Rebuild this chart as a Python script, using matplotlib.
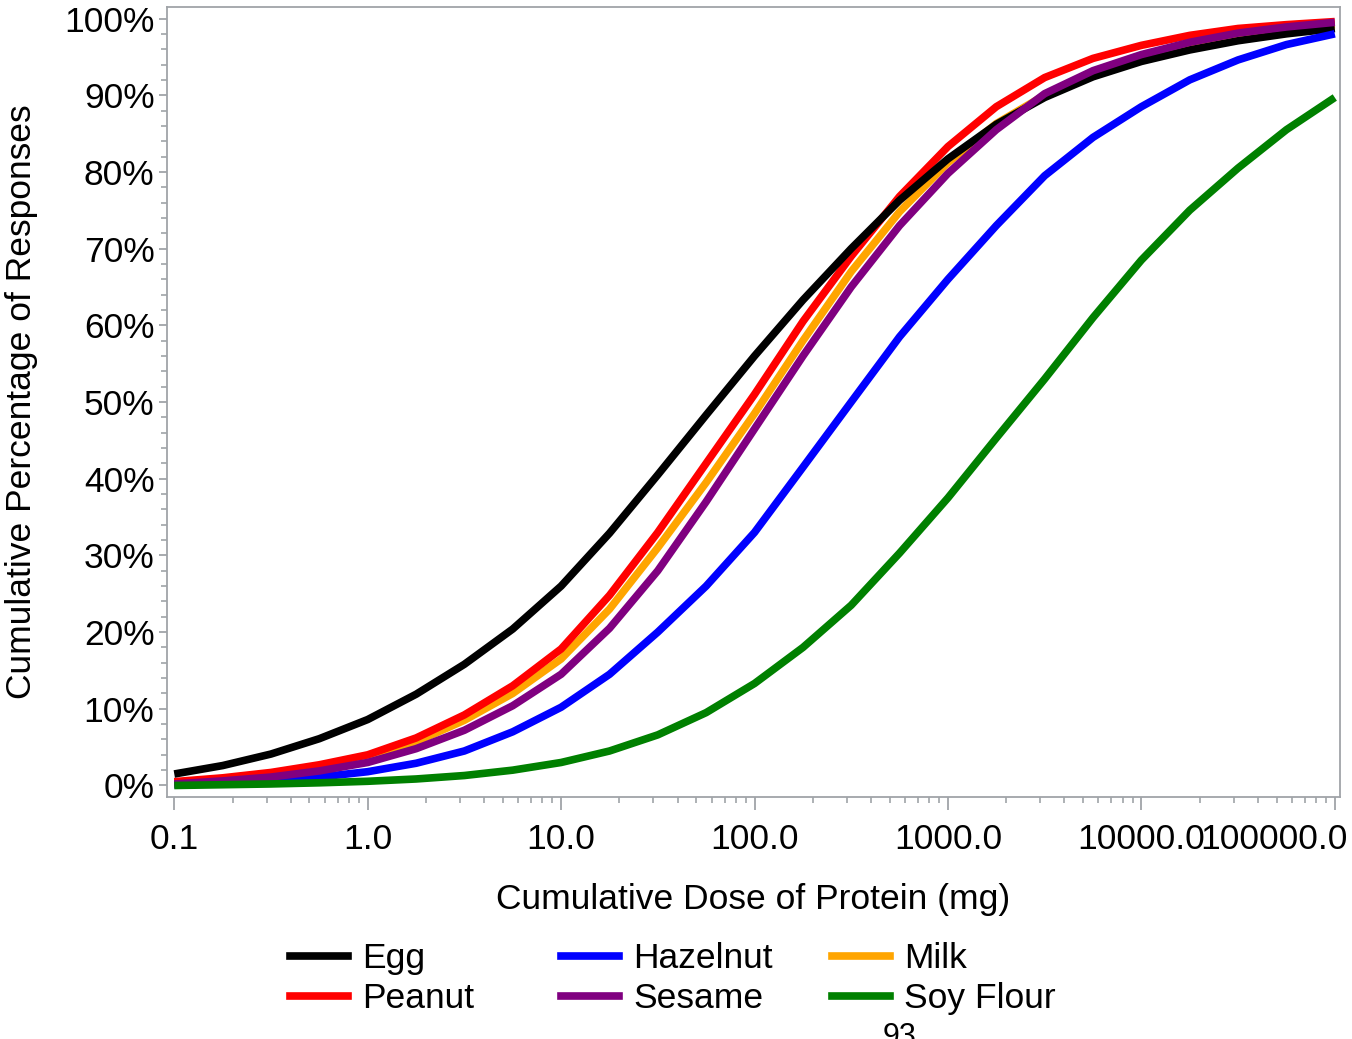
import matplotlib
matplotlib.use("Agg")
import matplotlib.pyplot as plt
import matplotlib.transforms as mtransforms
from matplotlib.ticker import FixedLocator, NullFormatter, FuncFormatter
from matplotlib.lines import Line2D

plt.rcParams['font.family'] = ['Liberation Sans', 'DejaVu Sans']

# Cumulative dose (mg) at which values were read (quarter decades)
dose = [0.1, 0.178, 0.316, 0.562, 1, 1.78, 3.16, 5.62, 10, 17.8, 31.6, 56.2,
        100, 178, 316, 562, 1000, 1778, 3162, 5623, 10000, 17783, 31623,
        56234, 100000]

# Cumulative percentage of responses (%)
egg      = [1.5, 2.6, 4.1, 6.1, 8.6, 11.9, 15.8, 20.4, 26.0, 32.9, 40.5, 48.3,
            56.0, 63.3, 70.0, 76.3, 81.7, 86.2, 89.7, 92.4, 94.4, 95.9, 97.1,
            98.0, 98.7]
peanut   = [0.5, 1.0, 1.7, 2.7, 4.0, 6.2, 9.2, 13.0, 17.8, 24.8, 33.0, 42.0,
            51.0, 60.5, 69.0, 76.8, 83.3, 88.5, 92.3, 94.8, 96.5, 97.8, 98.7,
            99.2, 99.6]
milk     = [0.4, 0.9, 1.5, 2.4, 3.6, 5.7, 8.5, 12.0, 16.5, 23.0, 31.0, 39.5,
            48.5, 58.0, 67.0, 74.8, 81.2, 86.3, 90.0, 92.8, 94.9, 96.5, 97.7,
            98.6, 99.2]
sesame   = [0.2, 0.6, 1.1, 1.9, 3.0, 4.8, 7.2, 10.4, 14.5, 20.5, 28.0, 37.0,
            46.5, 56.0, 65.0, 73.0, 79.8, 85.5, 90.2, 93.2, 95.3, 96.9, 98.1,
            98.9, 99.5]
hazelnut = [0.1, 0.3, 0.6, 1.1, 1.8, 2.9, 4.5, 7.0, 10.2, 14.5, 20.0, 26.0,
            33.0, 41.5, 50.0, 58.5, 66.0, 73.0, 79.5, 84.5, 88.5, 92.0, 94.6,
            96.6, 98.0]
soy      = [0.0, 0.1, 0.2, 0.35, 0.55, 0.85, 1.3, 2.0, 3.0, 4.5, 6.6, 9.5,
            13.3, 18.0, 23.5, 30.3, 37.5, 45.3, 53.0, 61.0, 68.5, 75.0, 80.5,
            85.5, 89.7]

names  = ["Egg", "Peanut", "Hazelnut", "Sesame", "Milk", "Soy Flour"]
colors = {"Egg": "#000000", "Peanut": "#FF0000", "Hazelnut": "#0000FF",
          "Sesame": "#800080", "Milk": "#FFA500", "Soy Flour": "#008000"}
series = {"Egg": egg, "Peanut": peanut, "Hazelnut": hazelnut,
          "Sesame": sesame, "Milk": milk, "Soy Flour": soy}
draw_order = ["Milk", "Peanut", "Egg", "Hazelnut", "Sesame", "Soy Flour"]

xticks = [0.1, 1, 10, 100, 1000, 10000, 100000]
xticklabels = ["0.1", "1.0", "10.0", "100.0", "1000.0", "10000.0", "100000.0"]
yticks = [0, 10, 20, 30, 40, 50, 60, 70, 80, 90, 100]

FS = 25.5
W, H = 1352, 1039
fig = plt.figure(figsize=(W / 100, H / 100), dpi=100)
ax = fig.add_axes([167 / W, 1 - 797 / H, (1340 - 167) / W, (797 - 7) / H])

for n in draw_order:
    ax.plot(dose, series[n], color=colors[n], lw=5.5, solid_capstyle='butt',
            solid_joinstyle='round')

ax.set_xscale('log')
ax.set_xlim(0.0917, 106400)
ax.set_ylim(-1.5, 101.5)

gray = '#A0A4A8'
for s in ax.spines.values():
    s.set_color(gray)
    s.set_linewidth(1.3)

ax.xaxis.set_major_locator(FixedLocator(xticks))
ax.set_xticklabels(xticklabels)
minor = [m * 10.0 ** e for e in range(-1, 5) for m in range(2, 10)]
ax.xaxis.set_minor_locator(FixedLocator(minor))
ax.xaxis.set_minor_formatter(NullFormatter())

ax.yaxis.set_major_locator(FixedLocator(yticks))
ax.yaxis.set_major_formatter(FuncFormatter(lambda v, p: f"{int(v)}%"))
ax.yaxis.set_minor_locator(FixedLocator([v for v in range(0, 101, 2) if v % 10]))

ax.tick_params(axis='x', which='major', length=9, width=1.3, color=gray,
               labelsize=FS, pad=10)
ax.tick_params(axis='x', which='minor', length=4.5, width=1.2, color=gray)
ax.tick_params(axis='y', which='major', length=6, width=1.3, color=gray,
               labelsize=FS, pad=3)
ax.tick_params(axis='y', which='minor', length=4, width=1.2, color=gray)

# last x tick label is shifted left so it stays inside the figure
last = ax.get_xticklabels()[-1]
last.set_horizontalalignment('right')
last.set_transform(last.get_transform() +
                   mtransforms.ScaledTranslation(13 / 100, 0, fig.dpi_scale_trans))

ax.set_xlabel("Cumulative Dose of Protein (mg)", fontsize=FS, labelpad=19)
ax.set_ylabel("Cumulative Percentage of Responses", fontsize=FS, labelpad=19)

# Legend: three columns of two entries
col_x = [290 / W, 561 / W, 832 / W]
groups = [["Egg", "Peanut"], ["Hazelnut", "Sesame"], ["Milk", "Soy Flour"]]
for cx, grp in zip(col_x, groups):
    handles = [Line2D([], [], color=colors[n], lw=5.5) for n in grp]
    fig.legend(handles, grp, loc='upper left', bbox_to_anchor=(cx, 1 - 942 / H),
               frameon=False, fontsize=FS, handlelength=1.64, handletextpad=0.4,
               labelspacing=0.2, borderaxespad=0, borderpad=0)

fig.text(900 / W, 1 - 1022 / H, "93", fontsize=22, ha='center', va='top')

fig.savefig("out.png", dpi=100)
